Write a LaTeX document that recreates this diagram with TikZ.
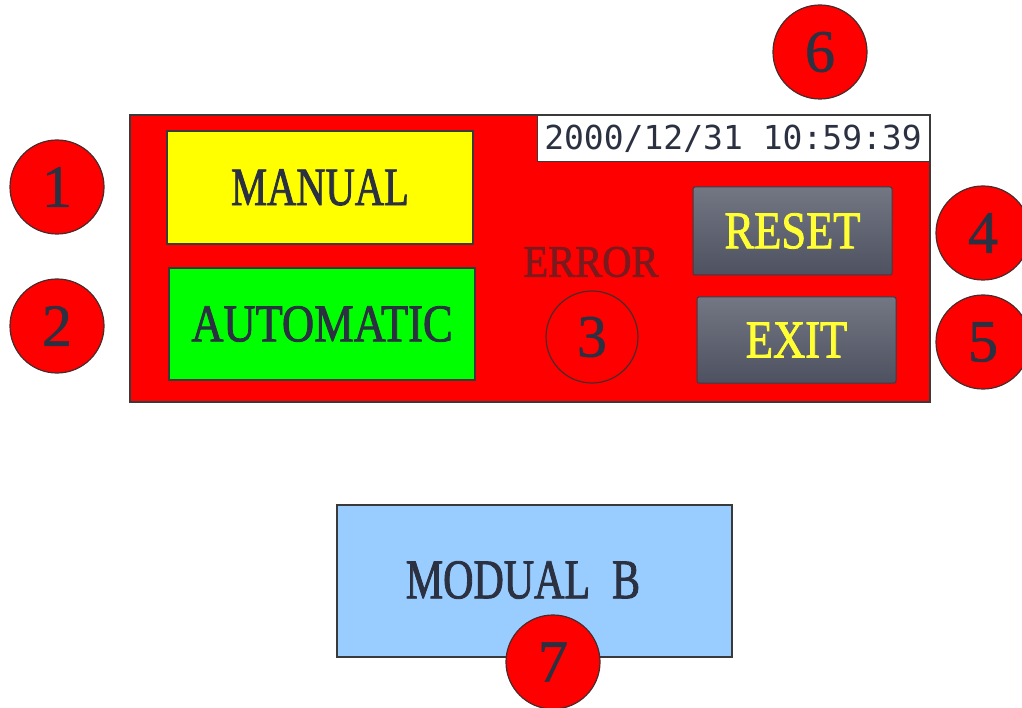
\documentclass[tikz,border=0pt]{standalone}
\usepackage{fontspec}
\setmainfont{Liberation Serif}
% condensed, slightly heavier serif faces for the panel captions
\newfontfamily\capnarrow[FakeStretch=0.75,FakeBold=1.5]{Liberation Serif}
\newfontfamily\capmid[FakeStretch=0.84,FakeBold=1.5]{Liberation Serif}
\newfontfamily\capwide[FakeStretch=0.9,FakeBold=1.5]{Liberation Serif}
\newfontfamily\digitfont[FakeBold=1]{Liberation Serif}
\newfontfamily\clockfont{DejaVu Sans Mono}

\definecolor{panelred}{HTML}{FF0000}
\definecolor{modeyellow}{HTML}{FFFF00}
\definecolor{modegreen}{HTML}{00FF00}
\definecolor{inkslate}{HTML}{2C3142}
\definecolor{edgedark}{HTML}{3A3A3A}
\definecolor{markedge}{HTML}{4A2A2A}
\definecolor{errink}{HTML}{7A1A1E}
\definecolor{btntop}{HTML}{737784}
\definecolor{btnbot}{HTML}{4E5260}
\definecolor{btnedge}{HTML}{3A3D46}
\definecolor{btnink}{HTML}{FFFF33}
\definecolor{skyblue}{HTML}{99CCFF}

\tikzset{
  panelbox/.style={draw=edgedark, line width=1.2pt, fill=panelred, inner sep=0pt},
  modebox/.style={draw=edgedark, line width=1.2pt, inner sep=0pt, text=inkslate},
  pushbtn/.style={draw=btnedge, line width=1pt, rounded corners=2pt,
    top color=btntop, bottom color=btnbot, inner sep=0pt, text=btnink},
  marker/.style={circle, draw=markedge, line width=1.2pt, fill=panelred,
    minimum size=94pt, inner sep=0pt, text=inkslate,
    font=\digitfont\fontsize{60}{60}\selectfont},
  ringmark/.style={circle, draw=markedge, line width=1.2pt,
    minimum size=92pt, inner sep=0pt, text=inkslate,
    font=\digitfont\fontsize{60}{60}\selectfont},
}

\begin{document}
\begin{tikzpicture}[x=1pt,y=-1pt]
\useasboundingbox (0,0) rectangle (1022,708);
\clip (0,0) rectangle (1022,708);
\fill[white] (0,0) rectangle (1022,708);

% main control panel
\node[panelbox, minimum width=800pt, minimum height=287pt] (panel) at (530,258.5) {};

% mode selector buttons
\node[modebox, fill=modeyellow, minimum width=306pt, minimum height=113pt,
      font=\capnarrow\fontsize{54}{54}\selectfont] (manual) at (320,187.5) {MANUAL};
\node[modebox, fill=modegreen, minimum width=306pt, minimum height=112pt,
      font=\capmid\fontsize{53}{53}\selectfont] (auto) at (322,324) {AUTOMATIC};

% clock display
\node[draw=edgedark, line width=1pt, fill=white, minimum width=392pt, minimum height=46pt,
      inner sep=0pt, text=inkslate, font=\clockfont\fontsize{33}{33}\selectfont]
      (clock) at (733,139) {2000/12/31 10:59:39};

% error indicator
\node[text=errink, inner sep=0pt, font=\capwide\fontsize{45}{45}\selectfont]
      (errlbl) at (591,262) {ERROR};
\node[ringmark] (m3) at (592,337) {3};

% command buttons
\node[pushbtn, minimum width=199pt, minimum height=88pt,
      font=\capmid\fontsize{53}{53}\selectfont] (reset) at (792.5,231) {RESET};
\node[pushbtn, minimum width=199pt, minimum height=86pt,
      font=\capmid\fontsize{53}{53}\selectfont] (exit) at (796.5,340) {EXIT};

% module B box
\node[draw=edgedark, line width=1.2pt, fill=skyblue, minimum width=395pt,
      minimum height=152pt, inner sep=0pt] (modb) at (534.5,581) {};
\node[text=inkslate, inner sep=0pt, font=\capnarrow\fontsize{56}{56}\selectfont]
      (modblbl) at (523,580) {MODUAL\hspace{22pt}B};

% numbered callouts
\node[marker] (m1) at (57,187) {1};
\node[marker] (m2) at (57,326) {2};
\node[marker] (m4) at (983,233) {4};
\node[marker] (m5) at (983,342) {5};
\node[marker] (m6) at (820,52) {6};
\node[marker] (m7) at (553,662) {7};
\end{tikzpicture}
\end{document}
